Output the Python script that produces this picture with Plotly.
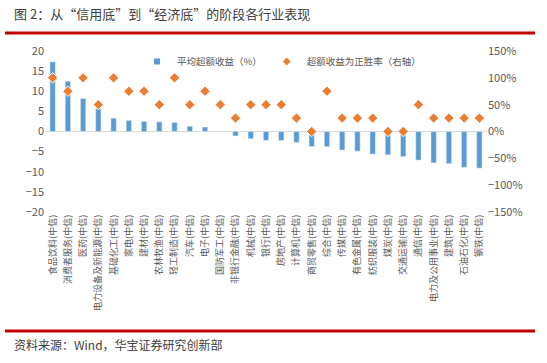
import plotly.graph_objects as go

categories = ["食品饮料(中信)", "消费者服务(中信)", "医药(中信)", "电力设备及新能源(中信)", "基础化工(中信)",
              "家电(中信)", "建材(中信)", "农林牧渔(中信)", "轻工制造(中信)", "汽车(中信)",
              "电子(中信)", "国防军工(中信)", "非银行金融(中信)", "机械(中信)", "银行(中信)",
              "房地产(中信)", "计算机(中信)", "商贸零售(中信)", "综合(中信)", "传媒(中信)",
              "有色金属(中信)", "纺织服装(中信)", "煤炭(中信)", "交通运输(中信)", "通信(中信)",
              "电力及公用事业(中信)", "建筑(中信)", "石油石化(中信)", "钢铁(中信)"]
avg_excess = [17.3, 12.5, 8.2, 5.7, 3.3, 2.75, 2.5, 2.4, 2.25, 1.3,
              1.1, -0.1, -1.1, -1.8, -2.2, -2.25, -2.7, -3.7, -3.75, -4.6,
              -4.9, -5.6, -5.8, -6.25, -7.1, -7.8, -8.0, -8.9, -9.1]
win_rate = [1.00, 0.75, 1.00, 0.50, 1.00, 0.75, 0.75, 0.50, 1.00, 0.50,
            0.75, 0.50, 0.25, 0.50, 0.50, 0.50, 0.25, 0.00, 0.75, 0.25,
            0.25, 0.25, 0.00, 0.00, 0.50, 0.25, 0.25, 0.25, 0.25]
left_ticks = [20, 15, 10, 5, 0, -5, -10, -15, -20]
right_ticks = [1.5, 1.0, 0.5, 0, -0.5, -1.0, -1.5]

FONT = "Noto Sans CJK SC"
GRAY = "#595959"
BLUE = "#5B9BD5"
ORANGE = "#ED7D31"

fig = go.Figure()
fig.add_trace(go.Bar(x=categories, y=avg_excess, name="平均超额收益（%）",
                     marker=dict(color=BLUE), yaxis="y", showlegend=False))
fig.add_trace(go.Scatter(x=categories, y=win_rate, name="超额收益为正胜率（右轴）", mode="markers",
                         marker=dict(symbol="diamond", size=8, color=ORANGE,
                                     line=dict(color="white", width=1)),
                         yaxis="y2", showlegend=False))
# legend entries with small symbols, as in the reference
fig.add_trace(go.Scatter(x=[None], y=[None], name="平均超额收益（%）", mode="markers",
                         marker=dict(symbol="square", size=6, color=BLUE), yaxis="y"))
fig.add_trace(go.Scatter(x=[None], y=[None], name="超额收益为正胜率（右轴）", mode="markers",
                         marker=dict(symbol="diamond", size=6, color=ORANGE), yaxis="y2"))

# plot area pixel geometry
L, R, T, B = 45, 487, 51, 212
W, H = R - L, B - T
def px(x): return (x - L) / W
def py(y): return (B - y) / H

fig.update_layout(
    width=547, height=363,
    margin=dict(l=L, r=547 - R, t=T, b=363 - B, autoexpand=False),
    paper_bgcolor="white", plot_bgcolor="white",
    font=dict(family=FONT, color=GRAY),
    bargap=0.65,
    showlegend=True,
    legend=dict(orientation="h", x=px(137), y=py(47), xanchor="left", yanchor="top",
                font=dict(size=9.5, color=GRAY), bgcolor="rgba(0,0,0,0)",
                itemwidth=30, tracegroupgap=0),
    xaxis=dict(type="category", tickangle=-90, tickfont=dict(size=9, color=GRAY),
               showline=False, showgrid=False, ticks="", range=[-0.5, 28.5]),
    yaxis=dict(range=[-20, 20], tickvals=left_ticks, showgrid=False, zeroline=True,
               zerolinecolor="#D9D9D9", zerolinewidth=1, showline=False,
               tickfont=dict(size=11, color=GRAY), ticks="", ticklen=0),
    yaxis2=dict(range=[-1.5, 1.5], tickvals=right_ticks, tickformat=".0%", overlaying="y",
                side="right", showgrid=False, zeroline=False, showline=False,
                tickfont=dict(size=11, color=GRAY)),
    shapes=[
        dict(type="line", xref="paper", yref="paper", x0=px(5), x1=px(535), y0=py(33), y1=py(33),
             line=dict(color="#C00000", width=3)),
        dict(type="line", xref="paper", yref="paper", x0=px(5), x1=px(535), y0=py(331), y1=py(331),
             line=dict(color="#C00000", width=3)),
    ],
    annotations=[
        dict(text="图 2：从“信用底”到“经济底”的阶段各行业表现", xref="paper", yref="paper",
             x=px(12), y=py(13), xanchor="left", yanchor="middle", showarrow=False,
             font=dict(size=13, color="#404040", family=FONT)),
        dict(text="资料来源：Wind，华宝证券研究创新部", xref="paper", yref="paper",
             x=px(12), y=py(344), xanchor="left", yanchor="middle", showarrow=False,
             font=dict(size=12, color="#404040", family=FONT)),
    ],
)

fig.write_html("out.html", config={"displayModeBar": False},
               post_script="document.body.style.margin='0';")
